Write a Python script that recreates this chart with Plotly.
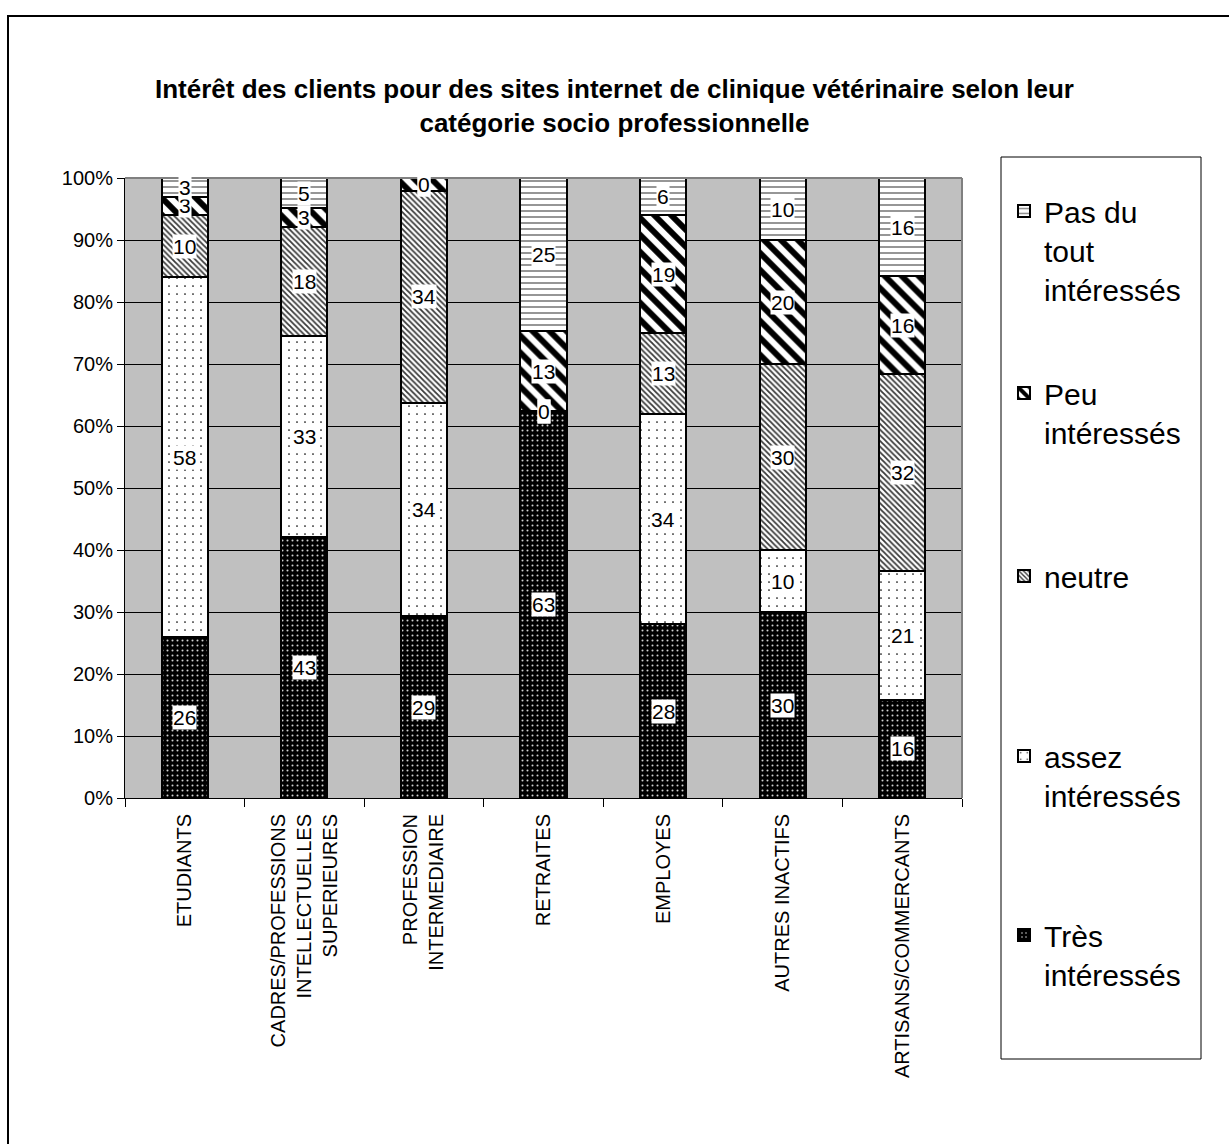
import plotly.graph_objects as go

# Socio-professional categories (x axis)
categories = [
    "ETUDIANTS",
    "CADRES/PROFESSIONS<br>INTELLECTUELLES<br>SUPERIEURES",
    "PROFESSION<br>INTERMEDIAIRE",
    "RETRAITES",
    "EMPLOYES",
    "AUTRES INACTIFS",
    "ARTISANS/COMMERCANTS",
]

# Number of answers per interest level
tres_interesses = [26, 43, 29, 63, 28, 30, 16]
assez_interesses = [58, 33, 34, 0, 34, 10, 21]
neutre = [10, 18, 34, 0, 13, 30, 32]
peu_interesses = [3, 3, 2, 13, 19, 20, 16]
pas_du_tout = [3, 5, 0, 25, 6, 10, 16]

series_names = ["Très<br>intéressés", "assez<br>intéressés", "neutre",
                "Peu<br>intéressés", "Pas du<br>tout<br>intéressés"]
series_values = [tres_interesses, assez_interesses, neutre, peu_interesses, pas_du_tout]

y_ticks = [0, 10, 20, 30, 40, 50, 60, 70, 80, 90, 100]

# Fill patterns for each interest level (black & white print style)
patterns = [
    dict(shape=".", bgcolor="#000000", fgcolor="#d0d0d0", size=5, solidity=0.13, fillmode="replace"),
    dict(shape=".", bgcolor="#ffffff", fgcolor="#000000", size=8, solidity=0.035, fillmode="replace"),
    dict(shape="\\", bgcolor="#ffffff", fgcolor="#3a3a3a", size=4, solidity=0.45, fillmode="replace"),
    dict(shape="\\", bgcolor="#ffffff", fgcolor="#000000", size=12, solidity=0.5, fillmode="replace"),
    dict(shape="-", bgcolor="#ffffff", fgcolor="#8a8a8a", size=6, solidity=0.3, fillmode="replace"),
]

FONT = "Liberation Sans, Arial, sans-serif"
W, H = 1229, 1144
L, R, T, B = 125, 962, 178, 798  # plot area in pixels


def px_x(px):
    return (px - L) / (R - L)


def px_y(py):
    return (B - py) / (B - T)


fig = go.Figure()

legend_ids = ["legend2", "legend3", "legend4", "legend5", "legend6"]
legend_first_line = {"legend6": 213, "legend5": 395, "legend4": 578, "legend3": 758, "legend2": 937}

for name, vals, pat, lg in zip(series_names, series_values, patterns, legend_ids):
    fig.add_trace(go.Bar(
        x=categories,
        y=vals,
        name=name,
        legend=lg,
        marker=dict(color=pat["bgcolor"], pattern=pat,
                    line=dict(color="#000000", width=2)),
        width=0.385,
        hoverinfo="skip",
    ))

# Data labels: value written at the middle of each stacked segment
totals = [sum(v[i] for v in series_values) for i in range(len(categories))]
annotations = []
for i, cat in enumerate(categories):
    cum = 0.0
    for vals in series_values:
        v = vals[i]
        lo = cum / totals[i] * 100
        cum += v
        hi = cum / totals[i] * 100
        mid = min((lo + hi) / 2, 99)
        annotations.append(dict(
            x=cat, y=mid, xref="x", yref="y", text=str(v), showarrow=False,
            font=dict(family=FONT, size=21, color="#000000"),
            bgcolor="#ffffff", borderpad=0, yanchor="middle",
        ))

fig.update_layout(
    width=W, height=H,
    margin=dict(l=L, r=W - R, t=T, b=H - B, pad=0),
    paper_bgcolor="#ffffff",
    plot_bgcolor="#c0c0c0",
    barmode="stack",
    barnorm="percent",
    showlegend=True,
    font=dict(family=FONT, size=20, color="#000000"),
    title=dict(
        text="<b>Intérêt des clients pour des sites internet de clinique vétérinaire selon leur<br>catégorie socio professionnelle</b>",
        x=0.5, xref="container", xanchor="center",
        y=1 - 98 / H, yref="container", yanchor="middle",
        font=dict(family=FONT, size=26, color="#000000"),
    ),
    xaxis=dict(
        showgrid=False, showline=True, linecolor="#000000", linewidth=1,
        ticks="outside", tickson="boundaries", ticklen=8, tickcolor="#000000",
        tickangle=-90, tickfont=dict(family=FONT, size=20),
        ticklabelstandoff=7,
    ),
    yaxis=dict(
        range=[0, 100], tickvals=y_ticks, ticktext=[f"{t}%" for t in y_ticks],
        showgrid=True, gridcolor="#000000", gridwidth=1,
        showline=True, linecolor="#000000", linewidth=1,
        ticks="outside", ticklen=7, tickcolor="#000000",
        tickfont=dict(family=FONT, size=20), zeroline=False,
    ),
    annotations=annotations,
    shapes=[
        # plot area frame (top & right in grey)
        dict(type="line", xref="paper", yref="paper", x0=0, x1=1, y0=1, y1=1,
             line=dict(color="#808080", width=2)),
        dict(type="line", xref="paper", yref="paper", x0=1, x1=1, y0=0, y1=1,
             line=dict(color="#808080", width=2)),
        # legend frame
        dict(type="rect", xref="paper", yref="paper",
             x0=px_x(1001), x1=px_x(1201), y0=px_y(1059), y1=px_y(157),
             line=dict(color="#000000", width=1), fillcolor="rgba(0,0,0,0)", layer="above"),
        # chart frame
        dict(type="rect", xref="paper", yref="paper",
             x0=px_x(8), x1=px_x(1500), y0=px_y(1400), y1=px_y(16),
             line=dict(color="#000000", width=2), fillcolor="rgba(0,0,0,0)", layer="above"),
    ],
)

# One legend box per series so the entries are evenly spread down the frame
for lg in legend_ids:
    first = legend_first_line[lg]
    fig.update_layout({lg: dict(
        x=px_x(1004), xanchor="left",
        y=px_y(first - 28), yanchor="top",
        bgcolor="rgba(0,0,0,0)", borderwidth=0,
        font=dict(family=FONT, size=30, color="#000000"),
        itemwidth=30, valign="top",
    )})

fig.write_html("out.html")
